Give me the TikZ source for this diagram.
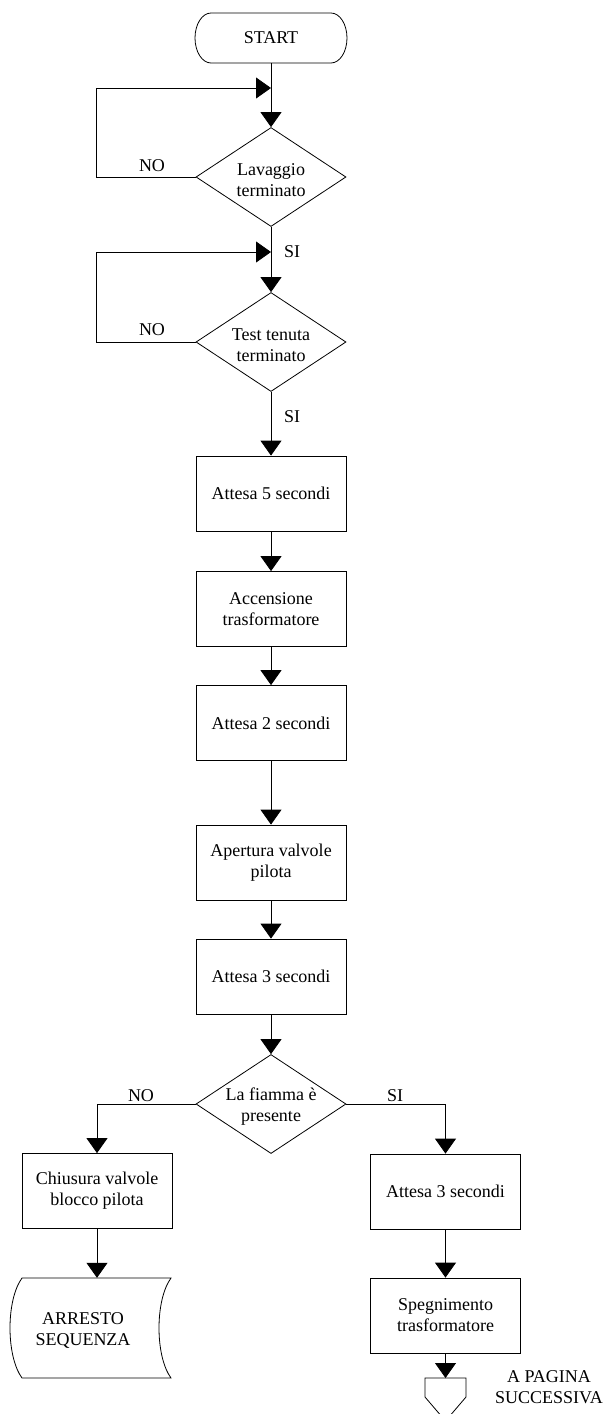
\documentclass[tikz,border=0pt]{standalone}
\usepackage{fontspec}
\setmainfont{Liberation Serif}
\usetikzlibrary{arrows.meta,shapes.geometric}
\begin{document}
\begin{tikzpicture}[x=1pt,y=-1pt,
  every node/.style={font=\fontsize{18}{21}\selectfont, align=center, inner sep=0pt},
  line/.style={line width=0.8pt, draw=black},
  arr/.style={line, -{Triangle[length=15pt,width=21pt]}},
  procbox/.style={rectangle, line, minimum width=150pt, minimum height=75pt},
  decision/.style={diamond, line, minimum width=150pt, minimum height=99pt},
  ghost/.style={rectangle, minimum width=150pt, minimum height=100pt},
  lbl/.style={}
]
\clip (0,0) rectangle (608,1414);
\fill[white] (0,0) rectangle (608,1414);

% START terminal
\node[rectangle, minimum width=152pt, minimum height=50pt] (start) at (271,38) {START};
\draw[line] (211,13) -- (331,13) arc[start angle=90, end angle=-90, x radius=16pt, y radius=25pt]
  -- (211,63) arc[start angle=270, end angle=90, x radius=16pt, y radius=25pt] -- cycle;

% decisions
\node[decision] (d1) at (271,177) {};
\node (d1t) at (271,180) {Lavaggio\\terminato};
\node[decision] (d2) at (271,342) {};
\node (d2t) at (271,345) {Test tenuta\\terminato};

% process boxes
\node[procbox] (b1) at (271,493.5) {Attesa 5 secondi};
\node[procbox] (b2) at (271,609) {Accensione\\trasformatore};
\node[procbox] (b3) at (271,723) {Attesa 2 secondi};
\node[procbox] (b4) at (271,862.5) {Apertura valvole\\pilota};
\node[procbox] (b5) at (271,976.5) {Attesa 3 secondi};

\node[decision] (d3) at (271,1104) {};
\node (d3t) at (271,1107) {La fiamma è\\presente};

\node[procbox] (bl) at (97,1191) {Chiusura valvole\\blocco pilota};
\node[procbox] (br) at (445.5,1191.5) {Attesa 3 secondi};
\node[procbox] (br2) at (445.5,1315.5) {Spegnimento\\trasformatore};

% ARRESTO SEQUENZA shape
\node[ghost] (stop) at (97,1328) {};
\node (stopt) at (83,1330) {ARRESTO\\SEQUENZA};
\draw[line] (22,1278) -- (171,1278) .. controls (155,1300) and (155,1356) .. (171,1378)
  -- (22,1378) .. controls (6,1356) and (6,1300) .. (22,1278) -- cycle;

% off-page connector
\coordinate (off) at (445.5,1378);
\draw[line] (425,1378) -- (466,1378) -- (466,1397) -- (445.5,1421) -- (425,1397) -- cycle;
\node (offt) at (549,1387.5) {A PAGINA\\SUCCESSIVA};

% junctions of loops
\coordinate (j1) at (271,88);
\coordinate (j2) at (271,252);

% main flow
\draw[arr] (start.south) -- (d1.north);
\draw[arr] (d1.west) -- (96,177) -- (96,88) -- (j1);
\draw[arr] (d1.south) -- (d2.north);
\draw[arr] (d2.west) -- (96,342) -- (96,252) -- (j2);
\draw[arr] (d2.south) -- (b1.north);
\draw[arr] (b1.south) -- (b2.north);
\draw[arr] (b2.south) -- (b3.north);
\draw[arr] (b3.south) -- (b4.north);
\draw[arr] (b4.south) -- (b5.north);
\draw[arr] (b5.south) -- (d3.north);
\draw[arr] (d3.west) -| (bl.north);
\draw[arr] (d3.east) -| (br.north);
\draw[arr] (bl.south) -- (stop.north);
\draw[arr] (br.south) -- (br2.north);
\draw[arr] (br2.south) -- (off);

% labels
\node (no1) at (152,166) {NO};
\node (no2) at (152,330) {NO};
\node (si1) at (292,252) {SI};
\node (si2) at (292,417) {SI};
\node (no3) at (141,1096) {NO};
\node (si3) at (395,1096) {SI};
\end{tikzpicture}
\end{document}
